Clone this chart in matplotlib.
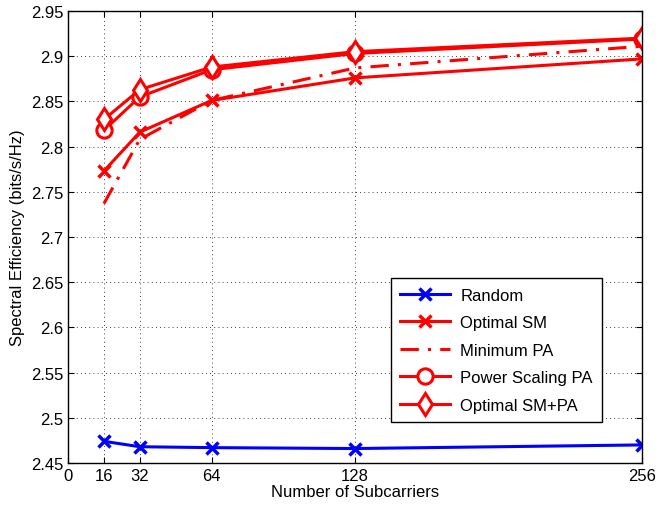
import matplotlib
matplotlib.use('Agg')
import matplotlib.pyplot as plt

plt.rcParams['font.family'] = ['Liberation Sans', 'DejaVu Sans']

# data
subcarriers = [16, 32, 64, 128, 256]
random_se = [2.474, 2.468, 2.467, 2.466, 2.470]
optimal_sm = [2.773, 2.816, 2.851, 2.876, 2.897]
minimum_pa = [2.737, 2.808, 2.851, 2.887, 2.911]
power_scaling_pa = [2.818, 2.855, 2.885, 2.903, 2.919]
optimal_sm_pa = [2.830, 2.863, 2.888, 2.905, 2.920]

xticks = [0, 16, 32, 64, 128, 256]
yticks = [2.45, 2.5, 2.55, 2.6, 2.65, 2.7, 2.75, 2.8, 2.85, 2.9, 2.95]

fig = plt.figure(figsize=(6.56, 5.10), dpi=100)
ax = fig.add_axes([0.1037, 0.0902, 0.875, 0.8863])

lw = 2.2
ax.plot(subcarriers, random_se, color='blue', lw=lw, marker='x', ms=8, mew=2.5, label='Random')
ax.plot(subcarriers, optimal_sm, color='red', lw=lw, marker='x', ms=8, mew=2.5, label='Optimal SM')
ax.plot(subcarriers, minimum_pa, color='red', lw=lw, ls=(0, (6, 3, 1, 3)), label='Minimum PA')
ax.plot(subcarriers, power_scaling_pa, color='red', lw=lw, marker='o', ms=11, mew=2.2,
        mfc='white', label='Power Scaling PA')
ax.plot(subcarriers, optimal_sm_pa, color='red', lw=lw, marker='d', ms=11.5, mew=2.2,
        mfc='white', label='Optimal SM+PA')

ax.set_xlim(0, 256)
ax.set_ylim(2.45, 2.95)
ax.set_xticks(xticks)
ax.set_yticks(yticks)
ax.set_yticklabels([('%.2f' % v).rstrip('0').rstrip('.') for v in yticks])
ax.grid(True, ls=(0, (1, 4)), color='black', lw=0.6)
ax.tick_params(direction='in', top=True, right=True, labelsize=12, length=4)
for s in ax.spines.values():
    s.set_linewidth(1.0)

ax.set_xlabel('Number of Subcarriers', fontsize=12, labelpad=1)
ax.set_ylabel('Spectral Efficiency (bits/s/Hz)', fontsize=12, labelpad=4)

leg = ax.legend(loc='lower right', bbox_to_anchor=(0.945, 0.073), fontsize=12,
                fancybox=False, edgecolor='black', framealpha=1, handlelength=3.0,
                labelspacing=0.75, borderpad=0.55, handletextpad=0.6)
leg.get_frame().set_linewidth(1.0)

fig.savefig('out.png', dpi=100)
